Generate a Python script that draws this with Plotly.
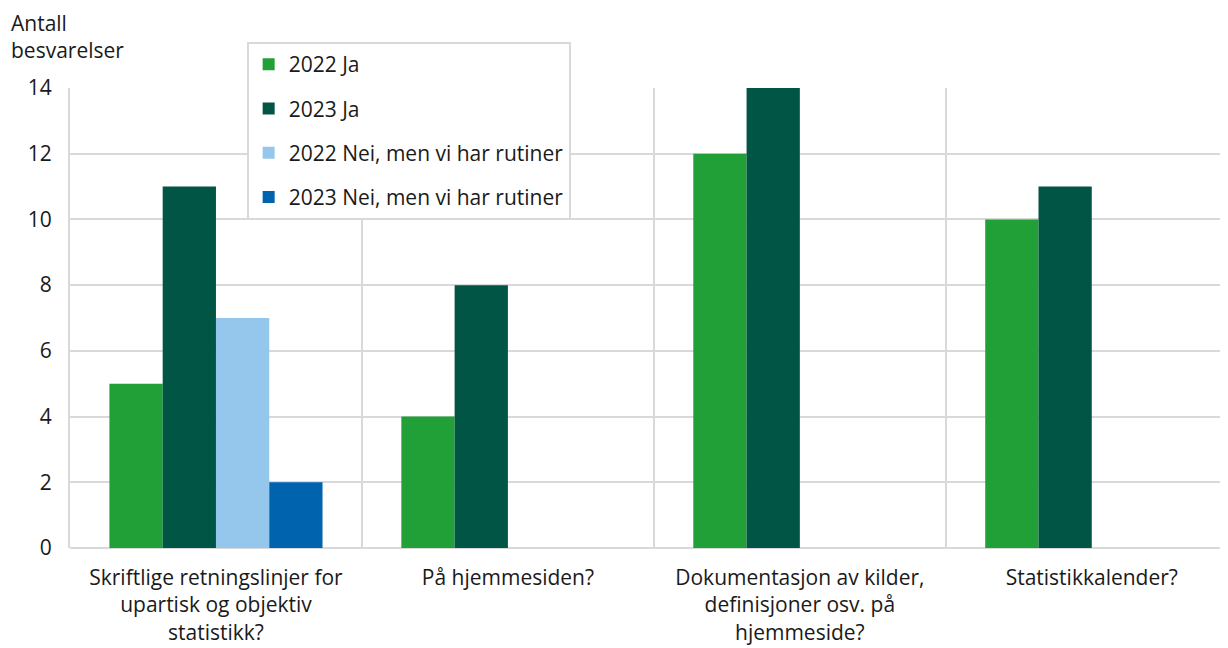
import plotly.graph_objects as go

categories = [
    "Skriftlige retningslinjer for<br>upartisk og objektiv<br>statistikk?",
    "På hjemmesiden?",
    "Dokumentasjon av kilder,<br>definisjoner osv. på<br>hjemmeside?",
    "Statistikkalender?",
]
ja_2022 = [5, 4, 12, 10]
ja_2023 = [11, 8, 14, 11]
nei_2022 = [7, None, None, None]
nei_2023 = [2, None, None, None]

series = [
    ("2022 Ja", ja_2022, "#21a038"),
    ("2023 Ja", ja_2023, "#005544"),
    ("2022 Nei, men vi har rutiner", nei_2022, "#95c7ec"),
    ("2023 Nei, men vi har rutiner", nei_2023, "#0063ad"),
]

fig = go.Figure()
for i, (name, vals, col) in enumerate(series):
    fig.add_trace(go.Bar(x=categories, y=vals, name=name, marker_color=col,
                         marker_line_width=0, legendgroup=str(i)))

# page body has an 8px margin, so the figure is offset by 8px
fig.update_layout(
    width=1228, height=648,
    plot_bgcolor="white", paper_bgcolor="white",
    margin=dict(l=62, r=0, t=80, b=108),
    font=dict(family="Open Sans", size=21, color="#1a1a1a"),
    barmode="group", bargap=0.27, bargroupgap=0,
    showlegend=True,
    legend=dict(x=0.1515, y=1.1, xanchor="left", yanchor="top",
                bgcolor="white", bordercolor="#d9d9d9", borderwidth=2,
                traceorder="grouped", tracegroupgap=14,
                font=dict(size=21)),
)
fig.update_xaxes(
    type="category", tickson="boundaries", showgrid=True,
    gridcolor="#d9d9d9", gridwidth=2, ticks="", showline=False,
    range=[-0.5, 3.494], tickfont=dict(size=21), automargin=False,
    ticklabelstandoff=15,
)
fig.update_yaxes(
    range=[0, 14], dtick=2, showgrid=True, gridcolor="#d9d9d9", gridwidth=2,
    zeroline=True, zerolinecolor="#d9d9d9", zerolinewidth=2,
    showline=True, linecolor="#d9d9d9", linewidth=2,
    ticks="", ticklabelstandoff=12, tickfont=dict(size=21), automargin=False,
)
fig.add_annotation(text="Antall<br>besvarelser", xref="paper", yref="paper",
                   x=-0.052, y=1.175, xanchor="left", yanchor="top",
                   showarrow=False, align="left", font=dict(size=21))

fig.write_html("out.html")
